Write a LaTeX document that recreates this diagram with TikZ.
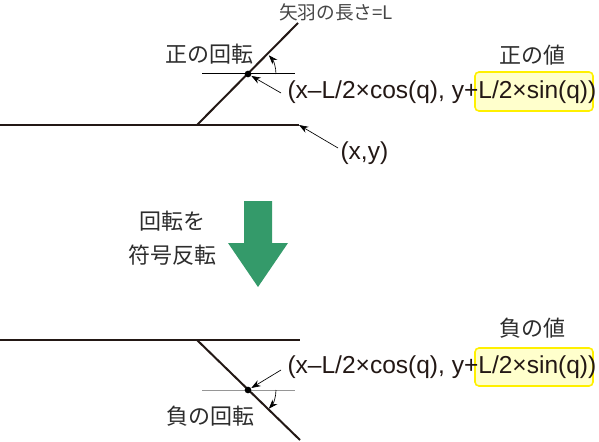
\documentclass[tikz,border=0pt]{standalone}
\usepackage{fontspec}
\setmainfont{Liberation Sans}
\newfontfamily\jpfont{Noto Sans CJK JP}
\usetikzlibrary{arrows.meta}

\tikzset{every picture/.style={line width=0.75pt}}
\tikzset{
  feather/.style={line width=1.5pt, draw={rgb, 255:red, 35; green, 24; blue, 21 }},
  callout/.style={line width=0.5pt, -{Stealth[length=7pt,width=5pt]}},
  jptext/.style={font=\jpfont\fontsize{16.5}{20}\selectfont, text={rgb, 255:red, 45; green, 45; blue, 45 }},
  formula/.style={font=\fontsize{18.4}{22}\selectfont, text={rgb, 255:red, 35; green, 24; blue, 21 }},
  markbox/.style={draw={rgb, 255:red, 255; green, 240; blue, 0 }, line width=1.2pt, fill={rgb, 255:red, 255; green, 255; blue, 204 }, rounded corners=3pt},
}

\begin{document}
\begin{tikzpicture}[x=0.75pt,y=0.75pt,yscale=-1,xscale=1]
\useasboundingbox (0,0) rectangle (599,442);

%Shape: Rectangle (highlight, positive)
\draw  [markbox] (475,72) -- (593,72) -- (593,111) -- (475,111) -- cycle ;
%Shape: Rectangle (highlight, negative)
\draw  [markbox] (475,348) -- (593,348) -- (593,386) -- (475,386) -- cycle ;

%Straight Lines (upper shaft)
\coordinate (upend) at (299,125) ;
\draw  [feather]  (0,125) -- (upend) ;
%Straight Lines (upper feather)
\draw  [feather]  (197,125) -- (298,23) ;
%Straight Lines (upper level)
\draw    (202,74) -- (295,74) ;
%Shape: Circle
\draw (248,74) node [circle, fill=black, inner sep=0pt, minimum size=5pt] (updot) {} ;
%Curve Lines (upper angle)
\draw  [callout]  (276,74) arc (0:-42:28) ;

%Straight Lines (lower shaft)
\draw  [feather]  (0,340) -- (300,340) ;
%Straight Lines (lower feather)
\draw  [feather]  (197,340) -- (300,440) ;
%Straight Lines (lower level)
\draw  [color={rgb, 255:red, 150; green, 150; blue, 150 }]  (202,390) -- (295,390) ;
%Shape: Circle
\draw (248,390) node [circle, fill=black, inner sep=0pt, minimum size=5pt] (lodot) {} ;
%Curve Lines (lower angle)
\draw  [callout]  (276,390) arc (0:42:28) ;

%Shape: Arrow
\draw  [draw=none, fill={rgb, 255:red, 52; green, 154; blue, 106 }  ,fill opacity=1 ] (244,201) -- (272,201) -- (272,243) -- (288,243) -- (258,287) -- (228,243) -- (244,243) -- cycle ;

% Text Node
\draw (336,12) node [jptext, font=\jpfont\fontsize{14}{16}\selectfont, text={rgb, 255:red, 70; green, 70; blue, 70 }][inner sep=0.75pt] (length) {矢羽の長さ=L};
% Text Node
\draw (209,54) node [jptext][inner sep=0.75pt] (posrot) {正の回転};
% Text Node
\draw (532,55) node [jptext][inner sep=0.75pt] (posval) {正の値};
% Text Node
\draw (287,92) node [formula, anchor=west][inner sep=0pt] (upform) {(x–L/2×cos(q), y+L/2×sin(q))};
% Text Node
\draw (340,153) node [formula, anchor=west][inner sep=0pt] (xytext) {(x,y)};
% Text Node
\draw (172,238) node [jptext, align=center][inner sep=0.75pt] (flip) {回転を\\[5pt]符号反転};
% Text Node
\draw (532,328) node [jptext][inner sep=0.75pt] (negval) {負の値};
% Text Node
\draw (287,367) node [formula, anchor=west][inner sep=0pt] (loform) {(x–L/2×cos(q), y+L/2×sin(q))};
% Text Node
\draw (210,416) node [jptext][inner sep=0.75pt] (negrot) {負の回転};

%Straight Lines (callouts)
\coordinate (uptail) at (281,93) ;
\coordinate (xytail) at (338,148) ;
\coordinate (lotail) at (281,370) ;
\draw  [callout]  (uptail) -- (updot) ;
\draw  [callout]  (xytail) -- (upend) ;
\draw  [callout]  (lotail) -- (lodot) ;

\end{tikzpicture}
\end{document}
